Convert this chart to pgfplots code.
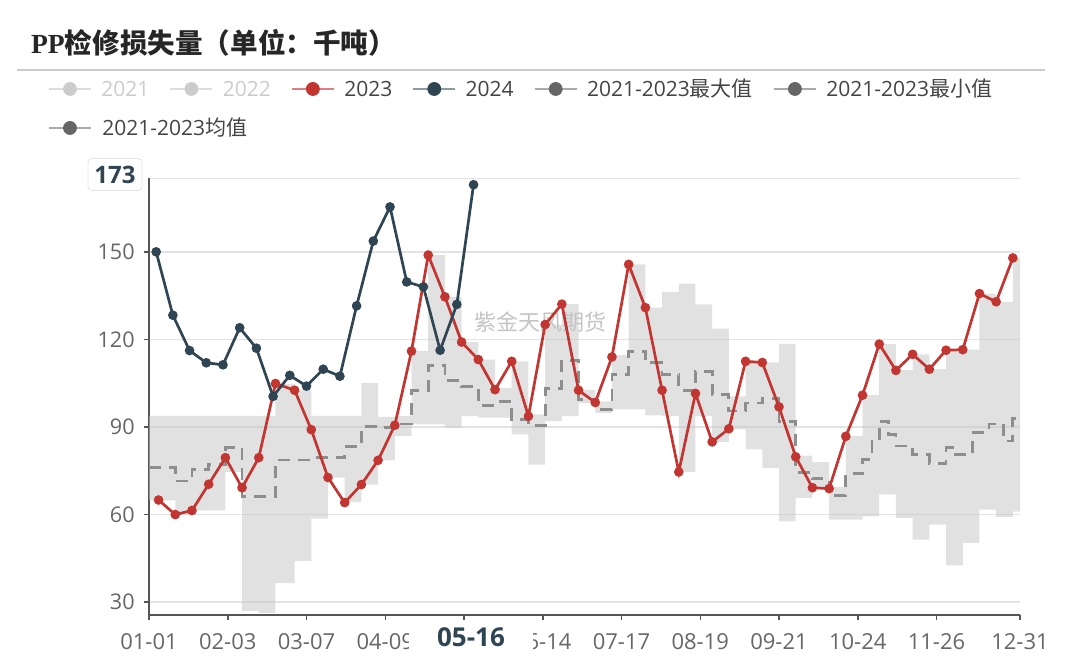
\documentclass[border=0pt]{standalone}
\usepackage{pgfplots}
\pgfplotsset{compat=1.18}
\usepackage{pgfplotstable}
\usepgfplotslibrary{fillbetween}
\usepackage{fontspec}
\setmainfont{Open Sans}
\newfontfamily\cjk{Noto Sans CJK SC}
\newfontfamily\titleserif{Liberation Serif}

\definecolor{cRed}{HTML}{C23531}
\definecolor{cRedL}{HTML}{DC7F82}
\definecolor{cDark}{HTML}{2F4554}
\definecolor{cDarkL}{HTML}{8A9BA8}
\definecolor{cGrey}{HTML}{666666}
\definecolor{cGreyL}{HTML}{AAAAAA}
\definecolor{cDis}{HTML}{CCCCCC}
\definecolor{cDisL}{HTML}{DDDDDD}
\definecolor{cBand}{HTML}{C4C4C4}
\definecolor{cGrid}{HTML}{E3E3E3}
\definecolor{cAxis}{HTML}{555555}
\definecolor{cTick}{HTML}{666666}
\definecolor{cText}{HTML}{444444}
\definecolor{cMean}{HTML}{8E8E8E}
\definecolor{cSep}{HTML}{CCCCCC}
\definecolor{cWater}{HTML}{C4C4C4}

\pgfplotstableread{
day min max mean
0 64.9 93.8 76
11 60.0 93.8 71.5
18 61.4 93.8 75.5
25 61.4 93.8 77.2
32 74.6 93.8 82.9
39 26.9 93.8 66.3
46 26.3 93.8 66.3
53 36.5 104.9 78.7
61 44.1 102.6 78.7
68 58.6 93.8 79.5
75 72.7 93.8 79.5
82 64.3 93.8 83.2
89 70.3 105.0 90.1
96 78.6 93.5 89.8
103 87.0 93.7 91.0
110 90.9 116.0 102.5
117 90.9 148.9 111.0
124 89.8 134.6 106.0
131 93.7 119.1 104.0
138 93.2 113.1 97.5
145 93.2 103.3 98.8
152 87.5 112.5 92.5
159 77.1 94.3 90.6
166 92.0 125.1 103.3
173 93.7 132.1 112.9
180 98.2 102.7 99.5
187 94.8 98.8 96.0
194 96.0 114.6 108.0
201 96.0 145.7 116.0
208 94.0 130.9 112.0
215 93.8 136.3 108.0
222 74.6 139.1 102.6
229 93.8 132.0 109.0
236 84.9 123.7 101.0
243 89.2 100.5 95.5
250 82.3 112.5 98.2
257 76.0 112.1 99.9
264 57.7 118.5 92.0
271 65.7 80.2 74.5
278 69.2 78.0 72.3
285 58.3 69.5 66.5
292 58.3 87.0 74.0
299 59.4 100.9 79.0
303 59.4 100.9 85.0
306 66.9 118.4 92.0
310 66.9 118.4 87.5
313 58.9 109.5 83.5
320 51.4 114.9 80.5
327 56.6 109.8 77.5
334 42.6 116.3 83.0
338 42.6 116.3 80.5
341 50.3 116.5 80.5
345 50.3 116.5 88.0
348 61.7 135.7 88.0
352 61.7 135.7 91.0
355 59.2 132.8 91.0
358 59.2 132.8 85.2
362 61.0 147.9 93.0
365 61.0 147.9 93.0
}\band

\pgfplotstableread{
day val
4 65.0
11 60.0
18 61.4
25 70.4
32 79.5
39 69.2
46 79.5
53 104.9
61 102.6
68 89.1
75 72.7
82 64.1
89 70.3
96 78.6
103 90.6
110 116.0
117 148.9
124 134.6
131 119.1
138 113.1
145 102.8
152 112.5
159 93.7
166 125.1
173 132.1
180 102.6
187 98.4
194 114.0
201 145.7
208 130.9
215 102.6
222 74.6
229 101.5
236 84.9
243 89.4
250 112.5
257 112.1
264 96.9
271 79.8
278 69.2
285 68.9
292 86.8
299 100.9
306 118.4
313 109.4
320 114.9
327 109.8
334 116.3
341 116.5
348 135.7
355 132.9
362 147.9
}\yA

\pgfplotstableread{
day val
3 150.0
10 128.3
17 116.2
24 112.0
31 111.3
38 124.0
45 117.0
52 100.5
59 107.7
66 104.0
73 109.8
80 107.4
87 131.5
94 153.7
101 165.4
108 139.7
115 138.0
122 116.3
129 132.0
136 173.0
}\yB

\pgfplotsset{
  legicon/.style n args={2}{legend image code/.code={
    \draw[line width=1pt, #1] (0pt,0pt) -- (21pt,0pt);
    \fill[#2] (10.5pt,0pt) circle (3.25pt);
    \path (26pt,0pt);}}
}
\newcommand\gap{\hspace*{10pt}\null}

\begin{document}
\begin{tikzpicture}
\node[anchor=west, text=black!85, inner sep=0pt] at (15.35pt,308.2pt)
  {\fontsize{13.8}{15}\selectfont\bfseries{\titleserif PP}{\cjk 检修损失量（单位：千吨）}};
\draw[color=cSep, line width=1pt] (8.5pt,294.5pt) -- (522.5pt,294.5pt);
\node[text=cWater, inner sep=0pt] at (270pt,168.5pt) {\fontsize{11}{13}\selectfont\cjk 紫金天风期货};

\begin{axis}[
  at={(74.5pt,22pt)}, anchor=south west,
  width=435.5pt, height=218.35pt, scale only axis,
  xmin=0, xmax=365, ymin=25.6, ymax=175.2,
  axis x line*=bottom, axis y line*=left,
  axis line style={cAxis, line width=1pt, -},
  xtick={0,33,66,99,132,165,198,231,264,297,330,365},
  xticklabels={01-01,02-03,03-07,04-09,{},06-14,07-17,08-19,09-21,10-24,11-26,12-31},
  ytick={30,60,90,120,150},
  extra y ticks={175.2}, extra y tick labels={},
  extra y tick style={major tick length=0pt, grid=major},
  ymajorgrids, grid style={cGrid, line width=0.75pt},
  tick style={cAxis, line width=0.75pt},
  major tick length=2.5pt, tick align=outside,
  /pgf/number format/assume math mode=true,
  xticklabel style={anchor=base, yshift=-14.75pt, inner sep=0pt, text=cTick, font=\fontsize{11}{12}\selectfont},
  yticklabel style={anchor=east, inner sep=0pt, xshift=-4.5pt, text=cTick, font=\fontsize{10.8}{12}\selectfont},
  legend columns=6,
  legend cell align=left,
  legend style={at={(-0.11596,1.2240)}, anchor=north west, draw=none, fill=none,
    inner sep=0pt, outer sep=0pt, row sep=11pt, column sep=0pt,
    font=\fontsize{10.5}{12}\selectfont, text=cText,
    nodes={inner sep=0pt, text height=8pt, text depth=0.5pt}},
]
\addlegendimage{legicon={cDisL}{cDis}}
\addlegendentry{\textcolor{cDis}{2021}\gap}
\addlegendimage{legicon={cDisL}{cDis}}
\addlegendentry{\textcolor{cDis}{2022}\gap}
\addlegendimage{legicon={cRedL}{cRed}}
\addlegendentry{2023\gap}
\addlegendimage{legicon={cDarkL}{cDark}}
\addlegendentry{2024\gap}
\addlegendimage{legicon={cGreyL}{cGrey}}
\addlegendentry{2021-2023{\cjk 最大值}\gap}
\addlegendimage{legicon={cGreyL}{cGrey}}
\addlegendentry{2021-2023{\cjk 最小值}}
\addlegendimage{legicon={cGreyL}{cGrey}}
\addlegendentry{\makebox[0pt][l]{2021-2023{\cjk 均值}}}

\addplot[name path=hi, draw=none, const plot, forget plot] table[x=day, y=max] {\band};
\addplot[name path=lo, draw=none, const plot, forget plot] table[x=day, y=min] {\band};
\addplot[fill=cBand, fill opacity=0.5, draw=none, forget plot] fill between[of=hi and lo];
\addplot[const plot, cMean, line width=1.4pt, dash pattern=on 6pt off 4pt, forget plot] table[x=day, y=mean] {\band};
\addplot[cRed, line width=1.35pt, mark=*, mark size=1.7pt, mark options={solid, fill=cRed, draw=cRed}, forget plot] table[x=day, y=val] {\yA};
\addplot[cDark, line width=1.35pt, mark=*, mark size=1.7pt, mark options={solid, fill=cDark, draw=cDark}, forget plot] table[x=day, y=val] {\yB};
\end{axis}

\node[fill=white, draw=black!10, rounded corners=2pt, minimum width=27pt, minimum height=16pt, inner sep=0pt, text=cDark]
  at (57.5pt,242.2pt) {\fontsize{12}{14}\selectfont\bfseries 173};
\node[fill=white, minimum width=62pt, minimum height=15pt, inner sep=0pt, text=cDark]
  at (235.5pt,10.75pt) {\fontsize{13}{15}\selectfont\bfseries 05-16};
\pgfresetboundingbox
\path[use as bounding box] (0,0) rectangle (540pt,329.5pt);
\end{tikzpicture}
\end{document}
